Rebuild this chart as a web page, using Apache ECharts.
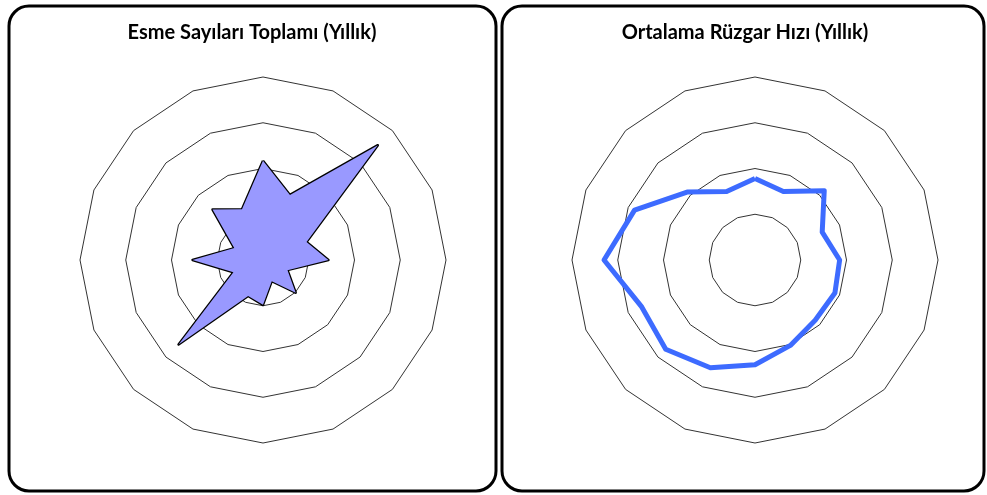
<!DOCTYPE html>
<html>
<head>
<meta charset="utf-8">
<script src="https://cdn.jsdelivr.net/npm/echarts@6/dist/echarts.min.js"></script>
<style>
html,body{margin:0;padding:0;background:#fff;}
#c{width:987px;height:495px;}
</style>
</head>
<body>
<div id="c"></div>
<script>
// Directions, clockwise from North
const directions = ['K','KKD','KD','DKD','D','DGD','GD','GGD','G','GGB','GB','BGB','B','BKB','KB','KKB'];
// Left: yearly blowing counts (Esme Sayıları Toplamı)
const esmeValues = [1085, 770, 1775, 515, 715, 290, 505, 250, 490, 425, 1305, 350, 770, 340, 780, 600];
const esmeMax = 2000;
// Right: yearly mean wind speed (m/s)
const hizValues = [1.78, 1.62, 2.14, 1.59, 1.85, 1.89, 1.86, 2.02, 2.29, 2.55, 2.76, 2.68, 3.30, 2.85, 2.10, 1.62];
const hizMax = 4;
const titles = ['Esme Sayıları Toplamı (Yıllık)', 'Ortalama Rüzgar Hızı (Yıllık)'];

// ECharts places radar indicators counter-clockwise; reorder to get clockwise layout
function ccw(arr){ return [arr[0]].concat(arr.slice(1).reverse()); }

function radarCfg(center, max){
  return {
    center: center,
    radius: 183,
    startAngle: 90,
    shape: 'polygon',
    splitNumber: 4,
    indicator: ccw(directions).map(n => ({name: n, max: max, min: 0})),
    axisName: {show: false},
    axisLine: {show: false},
    axisTick: {show: false},
    axisLabel: {show: false},
    splitArea: {show: false},
    splitLine: {lineStyle: {color: '#333', width: 1}}
  };
}

const chart = echarts.init(document.getElementById('c'), null, {renderer: 'canvas'});
chart.setOption({
  animation: false,
  backgroundColor: '#fff',
  graphic: [
    {type: 'rect', shape: {x: 9, y: 6, width: 487, height: 485, r: 20}, style: {fill: 'none', stroke: '#000', lineWidth: 3}, z: 0},
    {type: 'rect', shape: {x: 502, y: 6, width: 482, height: 485, r: 20}, style: {fill: 'none', stroke: '#000', lineWidth: 3}, z: 0}
  ],
  title: [
    {text: titles[0], left: 247, top: 18, textAlign: 'center', textStyle: {fontFamily: 'Lato', fontWeight: 'bold', fontSize: 20, color: '#000'}},
    {text: titles[1], left: 740, top: 18, textAlign: 'center', textStyle: {fontFamily: 'Lato', fontWeight: 'bold', fontSize: 20, color: '#000'}}
  ],
  radar: [radarCfg([263, 260], esmeMax), radarCfg([755, 260], hizMax)],
  series: [
    {
      type: 'radar', radarIndex: 0, symbol: 'none',
      data: [{value: ccw(esmeValues), name: titles[0]}],
      lineStyle: {color: '#000', width: 2.5},
      areaStyle: {color: '#9999ff', opacity: 1}
    },
    {
      type: 'radar', radarIndex: 1, symbol: 'none',
      data: [{value: ccw(hizValues), name: titles[1]}],
      lineStyle: {color: '#3d6bff', width: 5, join: 'round'}
    }
  ]
});
</script>
</body>
</html>
